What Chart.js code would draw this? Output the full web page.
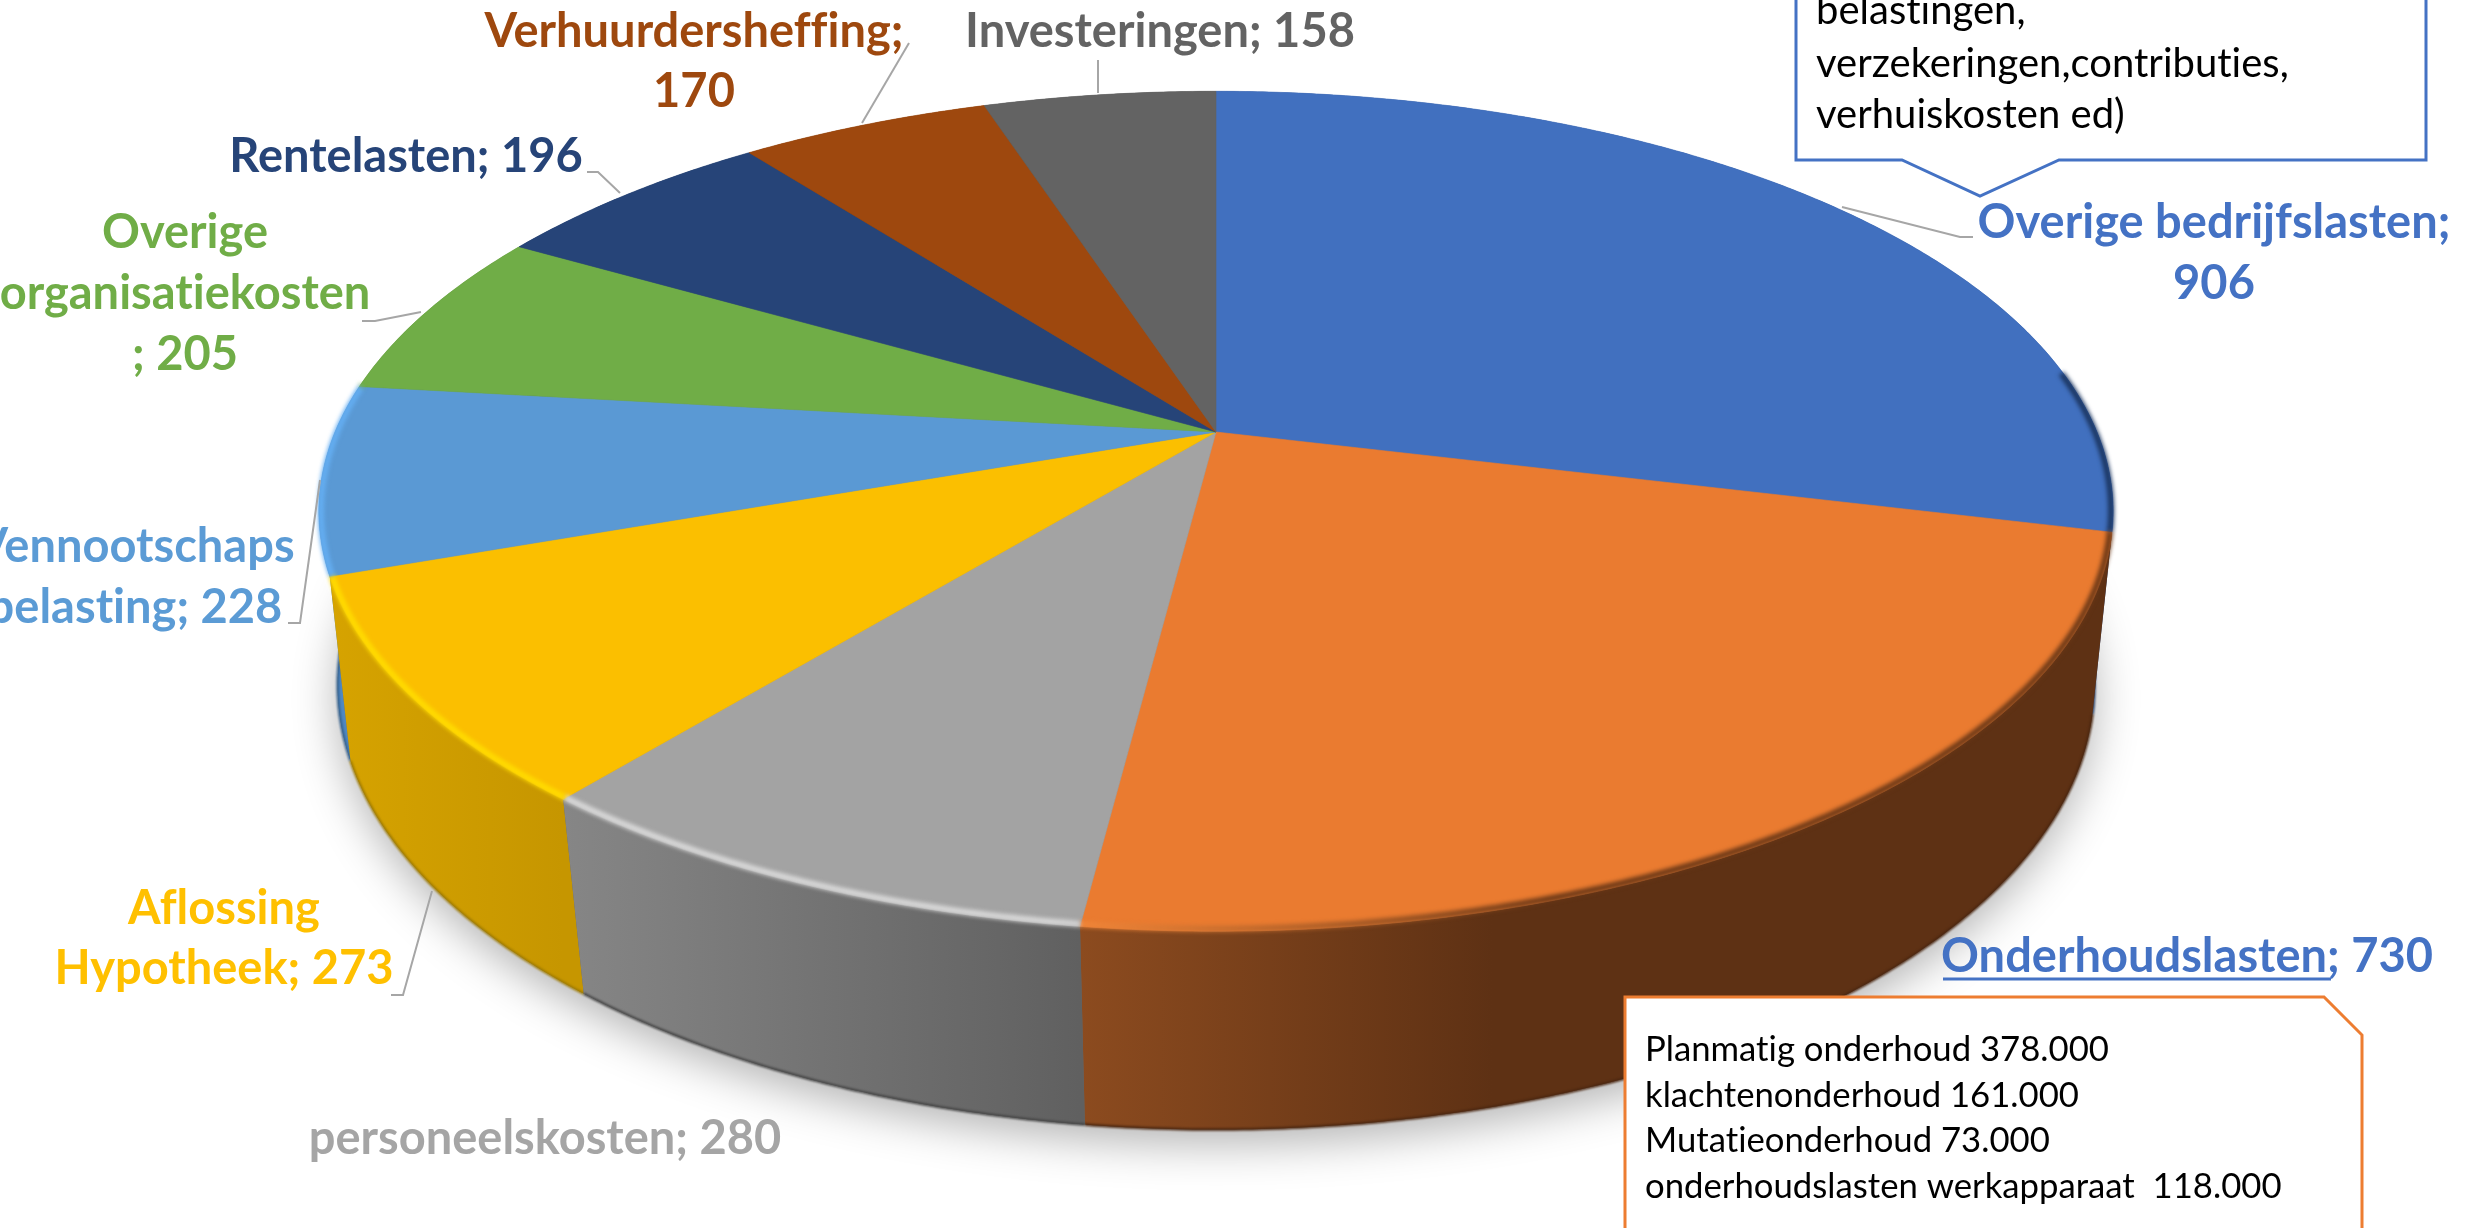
<!DOCTYPE html>
<html>
<head>
<meta charset="utf-8">
<title>Bedrijfslasten</title>
<style>
  html, body { margin: 0; padding: 0; background: #fff; overflow: hidden; }
  canvas { display: block; }
</style>
<script src="https://cdn.jsdelivr.net/npm/chart.js@4/dist/chart.umd.min.js"></script>
</head>
<body>
<canvas id="chart" width="2483" height="1228"></canvas>
<script>
const categories = ["Overige bedrijfslasten", "Onderhoudslasten", "personeelskosten", "Aflossing Hypotheek", "Vennootschaps belasting", "Overige organisatiekosten", "Rentelasten", "Verhuurdersheffing", "Investeringen"];
const values = [906, 730, 280, 273, 228, 205, 196, 170, 158];
const sliceColors = ["#4472C4", "#ED7D31", "#A5A5A5", "#FFC000", "#5B9BD5", "#70AD47", "#264478", "#9E480E", "#636363"];
const topColors = ["#4170BF", "#EA7B30", "#A3A3A3", "#FBBF00", "#5A99D4", "#70AD47", "#264478", "#9E480E", "#636363"];

// wall gradient, left to right
const wallFrom = ["#2B4A80", "#8C4B1F", "#868686", "#D6A300", "#4F88C2", "#4A7530", "#182C4E", "#672F09", "#414141"];
const wallTo = ["#2B4A80", "#5E3114", "#606060", "#C69600", "#4F88C2", "#4A7530", "#182C4E", "#672F09", "#414141"];
const rimLight = ["#3F6FC4", "#F98B3B", "#DADADA", "#FFDC00", "#64AEF2", "#70AD47", "#264478", "#9E480E", "#636363"];
const rimDark = ["#1B3560", "#6A3716", "#606060", "#C69600", "#3A6A9A", "#70AD47", "#264478", "#9E480E", "#636363"];
const edgeDark = ["#1B3560", "#4A2610", "#444444", "#9E7A00", "#34608C", "#4A7530", "#182C4E", "#672F09", "#414141"];

// perspective of the upper and lower disc
const topDisc = { x: 1216, y: 432, rx: 881, ry: 405, a: 0.1887 };
const lowDisc = { x: 1216, y: 608, rx: 865, ry: 431, a: 0.1736 };

const labels = [
  { lines: ["Overige bedrijfslasten;", "906"], color: "#4472C4", x: 2214, y: [238, 299] },
  { lines: ["Onderhoudslasten; 730"], color: "#4472C4", x: 2187, y: [972] },
  { lines: ["personeelskosten; 280"], color: "#A5A5A5", x: 545, y: [1154] },
  { lines: ["Aflossing", "Hypotheek; 273"], color: "#FFC000", x: 224, y: [924, 984] },
  { lines: ["Vennootschaps", "belasting; 228"], color: "#5B9BD5", x: 135, y: [562, 623] },
  { lines: ["Overige", "organisatiekosten", "; 205"], color: "#70AD47", x: 185, y: [248, 309, 370] },
  { lines: ["Rentelasten; 196"], color: "#264478", x: 406, y: [172] },
  { lines: ["Verhuurdersheffing;", "170"], color: "#9E480E", x: 694, y: [47, 107] },
  { lines: ["Investeringen; 158"], color: "#636363", x: 1160, y: [47] }
];
const leaders = [
  [[1842, 207], [1960, 237], [1973, 237]],
  [[1098, 60], [1098, 93]],
  [[909, 43], [862, 123]],
  [[587, 172], [598, 172], [620, 193]],
  [[362, 321], [375, 321], [421, 312]],
  [[288, 623], [300, 623], [320, 480]],
  [[391, 995], [403, 995], [432, 891]]
];

function project(d, angle) {
  const u = Math.cos(angle), v = Math.sin(angle), w = 1 - d.a * v;
  return [d.x + d.rx * u / w, d.y + d.ry * v / w];
}

function arcPoints(d, from, to) {
  const pts = [], n = Math.max(2, Math.ceil((to - from) / 0.008));
  for (let i = 0; i <= n; i++) pts.push(project(d, from + (to - from) * i / n));
  return pts;
}

function tracePath(ctx, pts) {
  pts.forEach(function (p, i) {
    if (i === 0) ctx.moveTo(p[0], p[1]); else ctx.lineTo(p[0], p[1]);
  });
}

function drawShadow(ctx) {
  ctx.save();
  ctx.shadowColor = "rgba(0,0,0,0.3)";
  ctx.shadowBlur = 45;
  ctx.shadowOffsetY = 14;
  ctx.fillStyle = "#666";
  ctx.beginPath();
  tracePath(ctx, arcPoints(lowDisc, 0, Math.PI * 2));
  ctx.closePath();
  ctx.fill();
  ctx.restore();
}

function drawWalls(ctx, arcs) {
  const order = arcs.map(function (_, i) { return i; }).sort(function (a, b) {
    return Math.sin((arcs[a].startAngle + arcs[a].endAngle) / 2) - Math.sin((arcs[b].startAngle + arcs[b].endAngle) / 2);
  });
  order.forEach(function (i) {
    const upper = arcPoints(topDisc, arcs[i].startAngle, arcs[i].endAngle);
    const lower = arcPoints(lowDisc, arcs[i].startAngle, arcs[i].endAngle).reverse();
    const xs = upper.map(function (p) { return p[0]; });
    const left = Math.min.apply(null, xs), right = Math.max.apply(null, xs);
    const grad = ctx.createLinearGradient(left, 0, right, 0);
    grad.addColorStop(0, wallFrom[i]);
    grad.addColorStop(i === 1 ? 0.4 : 1, wallTo[i]);
    ctx.fillStyle = grad;
    ctx.beginPath();
    tracePath(ctx, upper.concat(lower));
    ctx.closePath();
    ctx.fill();
    // dark line along the foot of the wall
    ctx.save();
    ctx.filter = "blur(1px)";
    ctx.strokeStyle = edgeDark[i];
    ctx.lineWidth = 2.5;
    ctx.beginPath();
    tracePath(ctx, lower);
    ctx.stroke();
    ctx.restore();
  });
}

function drawFaces(ctx, arcs) {
  arcs.forEach(function (arc, i) {
    ctx.fillStyle = topColors[i];
    ctx.strokeStyle = topColors[i];
    ctx.lineWidth = 0.6;
    ctx.beginPath();
    tracePath(ctx, arcPoints(topDisc, arc.startAngle, arc.endAngle));
    ctx.lineTo(topDisc.x, topDisc.y);
    ctx.closePath();
    ctx.fill();
    ctx.stroke();
  });
}

function drawRim(ctx, arcs) {
  ctx.save();
  ctx.filter = "blur(2px)";
  ctx.lineWidth = 6;
  const inner = { x: topDisc.x, y: topDisc.y, rx: topDisc.rx - 2, ry: topDisc.ry - 2, a: topDisc.a };
  arcs.forEach(function (arc, i) {
    const from = Math.max(arc.startAngle, -0.15);
    const to = Math.min(arc.endAngle, Math.PI + 0.12);
    if (to <= from) return;
    // lit on the left of the front, shaded on the right
    const grad = ctx.createLinearGradient(1050, 0, 1550, 0);
    grad.addColorStop(0, rimLight[i]);
    grad.addColorStop(1, rimDark[i]);
    ctx.strokeStyle = grad;
    ctx.beginPath();
    tracePath(ctx, arcPoints(inner, from, to));
    ctx.stroke();
  });
  ctx.restore();
}

function drawLeaders(ctx) {
  ctx.strokeStyle = "#A6A6A6";
  ctx.lineWidth = 2;
  leaders.forEach(function (pts) {
    ctx.beginPath();
    tracePath(ctx, pts);
    ctx.stroke();
  });
}

function drawLabels(ctx) {
  ctx.font = "bold 47px Lato";
  ctx.textAlign = "center";
  labels.forEach(function (l) {
    ctx.fillStyle = l.color;
    l.lines.forEach(function (line, k) {
      ctx.fillText(line, l.x, l.y[k]);
    });
  });
  ctx.strokeStyle = "#4472C4";
  ctx.lineWidth = 3;
  ctx.beginPath();
  ctx.moveTo(1943, 979);
  ctx.lineTo(2331, 979);
  ctx.stroke();
}

function drawCallouts(ctx) {
  ctx.textAlign = "left";
  // kosten box, cut off at the top of the picture
  ctx.fillStyle = "#fff";
  ctx.strokeStyle = "#4472C4";
  ctx.lineWidth = 3;
  ctx.beginPath();
  tracePath(ctx, [[1796, -10], [1796, 160], [1902, 160], [1980, 196], [2059, 160], [2426, 160], [2426, -10]]);
  ctx.fill();
  ctx.stroke();
  ctx.fillStyle = "#000";
  ctx.font = "40px Lato";
  ctx.fillText("belastingen,", 1816, 24);
  ctx.fillText("verzekeringen,contributies,", 1816, 77);
  ctx.fillText("verhuiskosten ed)", 1816, 128);

  ctx.fillStyle = "#fff";
  ctx.strokeStyle = "#ED7D31";
  ctx.beginPath();
  tracePath(ctx, [[1625, 1240], [1625, 997], [2324, 997], [2362, 1035], [2362, 1240]]);
  ctx.fill();
  ctx.stroke();
  ctx.fillStyle = "#000";
  ctx.font = "34.7px Lato";
  ctx.fillText("Planmatig onderhoud 378.000", 1645, 1061);
  ctx.fillText("klachtenonderhoud 161.000", 1645, 1107);
  ctx.fillText("Mutatieonderhoud 73.000", 1645, 1152);
  ctx.fillText("onderhoudslasten werkapparaat  118.000", 1645, 1198);
}

// Chart.js has no 3D pie, so the arcs it lays out are drawn here in perspective
const pie3d = {
  id: "pie3d",
  beforeDatasetDraw: function (chart) {
    const ctx = chart.ctx;
    const arcs = chart.getDatasetMeta(0).data;
    ctx.letterSpacing = "0.01px"; // keeps Lato from joining "ti" into a ligature
    drawShadow(ctx);
    drawWalls(ctx, arcs);
    drawFaces(ctx, arcs);
    drawRim(ctx, arcs);
    drawLeaders(ctx);
    drawLabels(ctx);
    drawCallouts(ctx);
    return false;
  }
};

new Chart(document.getElementById("chart"), {
  type: "pie",
  data: {
    labels: categories,
    datasets: [{ data: values, backgroundColor: sliceColors, borderWidth: 0 }]
  },
  options: {
    responsive: false,
    animation: false,
    plugins: { legend: { display: false }, tooltip: { enabled: false } }
  },
  plugins: [pie3d]
});
</script>
</body>
</html>
